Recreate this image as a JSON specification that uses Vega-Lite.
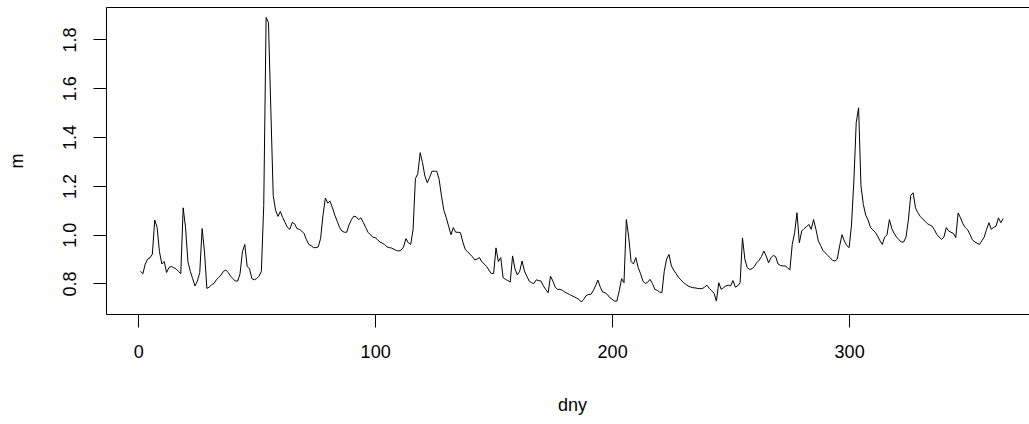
{
  "$schema": "https://vega.github.io/schema/vega-lite/v6.json",
  "autosize": {"type": "none"},
  "padding": {"left": 106, "top": 7, "right": 0, "bottom": 110},
  "width": 923,
  "height": 307,
  "background": "white",
  "config": {
    "view": {"stroke": null},
    "font": "Liberation Sans",
    "axis": {"grid": false, "domainColor": "#000000", "domainWidth": 1, "tickColor": "#000000", "tickWidth": 1, "labelColor": "#000000", "titleColor": "#000000", "titleFontWeight": "normal"}
  },
  "data": {"values": [
    {"dny":1,"m":0.85},{"dny":2,"m":0.84},{"dny":3,"m":0.88},{"dny":4,"m":0.9},{"dny":5,"m":0.905},
    {"dny":6,"m":0.92},{"dny":7,"m":1.06},{"dny":8,"m":1.03},{"dny":9,"m":0.93},{"dny":10,"m":0.88},
    {"dny":11,"m":0.89},{"dny":12,"m":0.845},{"dny":13,"m":0.865},{"dny":14,"m":0.87},{"dny":15,"m":0.865},
    {"dny":16,"m":0.86},{"dny":17,"m":0.85},{"dny":18,"m":0.84},{"dny":19,"m":1.11},{"dny":20,"m":1.03},
    {"dny":21,"m":0.89},{"dny":22,"m":0.85},{"dny":23,"m":0.82},{"dny":24,"m":0.79},{"dny":25,"m":0.81},
    {"dny":26,"m":0.845},{"dny":27,"m":1.025},{"dny":28,"m":0.93},{"dny":29,"m":0.78},{"dny":30,"m":0.785},
    {"dny":31,"m":0.795},{"dny":32,"m":0.8},{"dny":33,"m":0.815},{"dny":34,"m":0.825},{"dny":35,"m":0.835},
    {"dny":36,"m":0.85},{"dny":37,"m":0.855},{"dny":38,"m":0.845},{"dny":39,"m":0.83},{"dny":40,"m":0.82},
    {"dny":41,"m":0.81},{"dny":42,"m":0.81},{"dny":43,"m":0.84},{"dny":44,"m":0.93},{"dny":45,"m":0.96},
    {"dny":46,"m":0.87},{"dny":47,"m":0.86},{"dny":48,"m":0.82},{"dny":49,"m":0.815},{"dny":50,"m":0.82},
    {"dny":51,"m":0.83},{"dny":52,"m":0.85},{"dny":53,"m":1.12},{"dny":54,"m":1.89},{"dny":55,"m":1.87},
    {"dny":56,"m":1.51},{"dny":57,"m":1.16},{"dny":58,"m":1.1},{"dny":59,"m":1.075},{"dny":60,"m":1.095},
    {"dny":61,"m":1.07},{"dny":62,"m":1.05},{"dny":63,"m":1.03},{"dny":64,"m":1.022},{"dny":65,"m":1.05},
    {"dny":66,"m":1.045},{"dny":67,"m":1.025},{"dny":68,"m":1.022},{"dny":69,"m":1.015},{"dny":70,"m":1.005},
    {"dny":71,"m":0.98},{"dny":72,"m":0.96},{"dny":73,"m":0.955},{"dny":74,"m":0.947},{"dny":75,"m":0.947},
    {"dny":76,"m":0.95},{"dny":77,"m":0.985},{"dny":78,"m":1.08},{"dny":79,"m":1.15},{"dny":80,"m":1.13},
    {"dny":81,"m":1.137},{"dny":82,"m":1.11},{"dny":83,"m":1.08},{"dny":84,"m":1.055},{"dny":85,"m":1.03},
    {"dny":86,"m":1.015},{"dny":87,"m":1.01},{"dny":88,"m":1.01},{"dny":89,"m":1.04},{"dny":90,"m":1.062},
    {"dny":91,"m":1.076},{"dny":92,"m":1.073},{"dny":93,"m":1.062},{"dny":94,"m":1.069},{"dny":95,"m":1.05},
    {"dny":96,"m":1.03},{"dny":97,"m":1.01},{"dny":98,"m":1.0},{"dny":99,"m":0.99},{"dny":100,"m":0.988},
    {"dny":101,"m":0.98},{"dny":102,"m":0.97},{"dny":103,"m":0.965},{"dny":104,"m":0.96},{"dny":105,"m":0.95},
    {"dny":106,"m":0.947},{"dny":107,"m":0.945},{"dny":108,"m":0.94},{"dny":109,"m":0.935},{"dny":110,"m":0.933},
    {"dny":111,"m":0.937},{"dny":112,"m":0.95},{"dny":113,"m":0.984},{"dny":114,"m":0.967},{"dny":115,"m":0.96},
    {"dny":116,"m":1.02},{"dny":117,"m":1.23},{"dny":118,"m":1.25},{"dny":119,"m":1.336},{"dny":120,"m":1.295},
    {"dny":121,"m":1.24},{"dny":122,"m":1.213},{"dny":123,"m":1.235},{"dny":124,"m":1.26},{"dny":125,"m":1.26},
    {"dny":126,"m":1.26},{"dny":127,"m":1.227},{"dny":128,"m":1.158},{"dny":129,"m":1.1},{"dny":130,"m":1.07},
    {"dny":131,"m":1.035},{"dny":132,"m":1.0},{"dny":133,"m":1.029},{"dny":134,"m":1.01},{"dny":135,"m":1.01},
    {"dny":136,"m":1.008},{"dny":137,"m":0.97},{"dny":138,"m":0.94},{"dny":139,"m":0.93},{"dny":140,"m":0.92},
    {"dny":141,"m":0.91},{"dny":142,"m":0.897},{"dny":143,"m":0.9},{"dny":144,"m":0.906},{"dny":145,"m":0.89},
    {"dny":146,"m":0.88},{"dny":147,"m":0.87},{"dny":148,"m":0.855},{"dny":149,"m":0.841},{"dny":150,"m":0.841},
    {"dny":151,"m":0.946},{"dny":152,"m":0.89},{"dny":153,"m":0.906},{"dny":154,"m":0.824},{"dny":155,"m":0.817},
    {"dny":156,"m":0.812},{"dny":157,"m":0.806},{"dny":158,"m":0.913},{"dny":159,"m":0.86},{"dny":160,"m":0.835},
    {"dny":161,"m":0.85},{"dny":162,"m":0.892},{"dny":163,"m":0.851},{"dny":164,"m":0.83},{"dny":165,"m":0.81},
    {"dny":166,"m":0.803},{"dny":167,"m":0.8},{"dny":168,"m":0.815},{"dny":169,"m":0.812},{"dny":170,"m":0.81},
    {"dny":171,"m":0.79},{"dny":172,"m":0.775},{"dny":173,"m":0.762},{"dny":174,"m":0.83},{"dny":175,"m":0.81},
    {"dny":176,"m":0.785},{"dny":177,"m":0.776},{"dny":178,"m":0.776},{"dny":179,"m":0.772},{"dny":180,"m":0.765},
    {"dny":181,"m":0.76},{"dny":182,"m":0.755},{"dny":183,"m":0.75},{"dny":184,"m":0.745},{"dny":185,"m":0.74},
    {"dny":186,"m":0.735},{"dny":187,"m":0.724},{"dny":188,"m":0.735},{"dny":189,"m":0.75},{"dny":190,"m":0.755},
    {"dny":191,"m":0.755},{"dny":192,"m":0.77},{"dny":193,"m":0.79},{"dny":194,"m":0.814},{"dny":195,"m":0.785},
    {"dny":196,"m":0.765},{"dny":197,"m":0.762},{"dny":198,"m":0.755},{"dny":199,"m":0.742},{"dny":200,"m":0.735},
    {"dny":201,"m":0.728},{"dny":202,"m":0.728},{"dny":203,"m":0.77},{"dny":204,"m":0.82},{"dny":205,"m":0.803},
    {"dny":206,"m":1.062},{"dny":207,"m":0.99},{"dny":208,"m":0.89},{"dny":209,"m":0.88},{"dny":210,"m":0.906},
    {"dny":211,"m":0.865},{"dny":212,"m":0.84},{"dny":213,"m":0.81},{"dny":214,"m":0.8},{"dny":215,"m":0.805},
    {"dny":216,"m":0.817},{"dny":217,"m":0.8},{"dny":218,"m":0.776},{"dny":219,"m":0.772},{"dny":220,"m":0.765},
    {"dny":221,"m":0.762},{"dny":222,"m":0.85},{"dny":223,"m":0.9},{"dny":224,"m":0.919},{"dny":225,"m":0.872},
    {"dny":226,"m":0.855},{"dny":227,"m":0.84},{"dny":228,"m":0.825},{"dny":229,"m":0.815},{"dny":230,"m":0.805},
    {"dny":231,"m":0.797},{"dny":232,"m":0.79},{"dny":233,"m":0.786},{"dny":234,"m":0.783},{"dny":235,"m":0.782},
    {"dny":236,"m":0.78},{"dny":237,"m":0.779},{"dny":238,"m":0.779},{"dny":239,"m":0.785},{"dny":240,"m":0.793},
    {"dny":241,"m":0.78},{"dny":242,"m":0.77},{"dny":243,"m":0.76},{"dny":244,"m":0.728},{"dny":245,"m":0.803},
    {"dny":246,"m":0.776},{"dny":247,"m":0.783},{"dny":248,"m":0.79},{"dny":249,"m":0.793},{"dny":250,"m":0.79},
    {"dny":251,"m":0.812},{"dny":252,"m":0.785},{"dny":253,"m":0.79},{"dny":254,"m":0.803},{"dny":255,"m":0.987},
    {"dny":256,"m":0.9},{"dny":257,"m":0.865},{"dny":258,"m":0.858},{"dny":259,"m":0.86},{"dny":260,"m":0.87},
    {"dny":261,"m":0.885},{"dny":262,"m":0.895},{"dny":263,"m":0.91},{"dny":264,"m":0.933},{"dny":265,"m":0.913},
    {"dny":266,"m":0.885},{"dny":267,"m":0.905},{"dny":268,"m":0.915},{"dny":269,"m":0.91},{"dny":270,"m":0.88},
    {"dny":271,"m":0.874},{"dny":272,"m":0.872},{"dny":273,"m":0.872},{"dny":274,"m":0.865},{"dny":275,"m":0.855},
    {"dny":276,"m":0.96},{"dny":277,"m":1.008},{"dny":278,"m":1.09},{"dny":279,"m":0.967},{"dny":280,"m":1.015},
    {"dny":281,"m":1.025},{"dny":282,"m":1.032},{"dny":283,"m":1.042},{"dny":284,"m":1.022},{"dny":285,"m":1.062},
    {"dny":286,"m":1.022},{"dny":287,"m":0.975},{"dny":288,"m":0.955},{"dny":289,"m":0.935},{"dny":290,"m":0.925},
    {"dny":291,"m":0.915},{"dny":292,"m":0.905},{"dny":293,"m":0.895},{"dny":294,"m":0.892},{"dny":295,"m":0.9},
    {"dny":296,"m":0.954},{"dny":297,"m":1.0},{"dny":298,"m":0.974},{"dny":299,"m":0.955},{"dny":300,"m":0.947},
    {"dny":301,"m":1.04},{"dny":302,"m":1.22},{"dny":303,"m":1.46},{"dny":304,"m":1.52},{"dny":305,"m":1.2},
    {"dny":306,"m":1.124},{"dny":307,"m":1.08},{"dny":308,"m":1.06},{"dny":309,"m":1.03},{"dny":310,"m":1.02},
    {"dny":311,"m":1.01},{"dny":312,"m":0.995},{"dny":313,"m":0.975},{"dny":314,"m":0.96},{"dny":315,"m":0.99},
    {"dny":316,"m":1.0},{"dny":317,"m":1.062},{"dny":318,"m":1.025},{"dny":319,"m":1.005},{"dny":320,"m":0.99},
    {"dny":321,"m":0.98},{"dny":322,"m":0.97},{"dny":323,"m":0.97},{"dny":324,"m":0.99},{"dny":325,"m":1.06},
    {"dny":326,"m":1.161},{"dny":327,"m":1.172},{"dny":328,"m":1.11},{"dny":329,"m":1.09},{"dny":330,"m":1.075},
    {"dny":331,"m":1.065},{"dny":332,"m":1.055},{"dny":333,"m":1.045},{"dny":334,"m":1.04},{"dny":335,"m":1.035},
    {"dny":336,"m":1.02},{"dny":337,"m":1.001},{"dny":338,"m":0.99},{"dny":339,"m":0.981},{"dny":340,"m":0.99},
    {"dny":341,"m":1.029},{"dny":342,"m":1.015},{"dny":343,"m":1.01},{"dny":344,"m":1.005},{"dny":345,"m":0.988},
    {"dny":346,"m":1.089},{"dny":347,"m":1.069},{"dny":348,"m":1.045},{"dny":349,"m":1.03},{"dny":350,"m":1.02},
    {"dny":351,"m":1.001},{"dny":352,"m":0.98},{"dny":353,"m":0.97},{"dny":354,"m":0.965},{"dny":355,"m":0.96},
    {"dny":356,"m":0.975},{"dny":357,"m":0.99},{"dny":358,"m":1.022},{"dny":359,"m":1.049},{"dny":360,"m":1.022},
    {"dny":361,"m":1.03},{"dny":362,"m":1.035},{"dny":363,"m":1.069},{"dny":364,"m":1.049},{"dny":365,"m":1.066}
  ]},
  "layer": [
    {
      "mark": {"type": "line", "color": "#000000", "strokeWidth": 1},
      "encoding": {
        "x": {
          "field": "dny", "type": "quantitative",
          "scale": {"domain": [-13.56, 375.9], "nice": false, "zero": false},
          "axis": {"orient": "bottom", "values": [0, 100, 200, 300], "tickSize": 13, "labelFontSize": 18, "labelPadding": 30, "labelBaseline": "alphabetic", "labelFlush": false, "title": "dny", "titleFontSize": 18, "titleBaseline": "alphabetic", "titleX": 466, "titleY": 96}
        },
        "y": {
          "field": "m", "type": "quantitative",
          "scale": {"domain": [0.675, 1.933], "nice": false, "zero": false},
          "axis": {"orient": "left", "values": [0.8, 1.0, 1.2, 1.4, 1.6, 1.8], "format": ".1f", "tickSize": 13, "labelFontSize": 18, "labelAngle": -90, "labelAlign": "center", "labelBaseline": "alphabetic", "labelPadding": 18, "labelFlush": false, "title": "m", "titleFontSize": 18, "titleAngle": -90, "titleBaseline": "alphabetic", "titleX": -84, "titleY": 153.5}
        }
      }
    },
    {
      "mark": {"type": "line", "strokeOpacity": 0},
      "encoding": {
        "x": {
          "field": "dny", "type": "quantitative",
          "axis": {"orient": "top", "ticks": false, "labels": false, "title": null}
        },
        "y": {"field": "m", "type": "quantitative"}
      }
    }
  ],
  "resolve": {"axis": {"x": "independent"}}
}
